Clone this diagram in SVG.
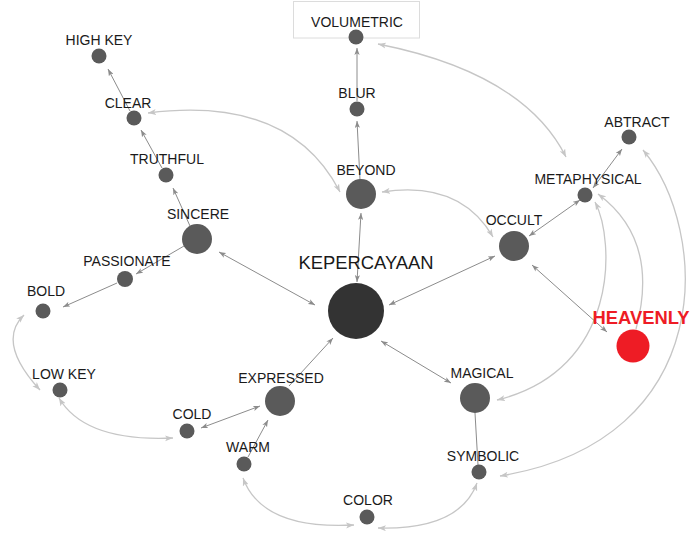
<svg xmlns="http://www.w3.org/2000/svg" width="692" height="534" viewBox="0 0 692 534">
<style>
.n{fill:#5a5a5a}
.t{font-family:"Liberation Sans",Arial,sans-serif;font-size:14px;fill:#1a1a1a;text-anchor:middle}
.d{fill:none;stroke:#8c8c8c;stroke-width:1}
.l{fill:none;stroke:#c6c6c6;stroke-width:1.3}
.d.a{marker-end:url(#ad)}
.d.b{marker-start:url(#ad);marker-end:url(#ad)}
.l.a{marker-end:url(#al)}
.l.b{marker-start:url(#al);marker-end:url(#al)}
</style>
<defs>
<marker id="ad" viewBox="0 0 8 6" refX="8" refY="3" markerWidth="7" markerHeight="5.5" markerUnits="userSpaceOnUse" orient="auto-start-reverse"><path d="M0,0 L8,3 L0,6 L2,3 z" fill="#8c8c8c"/></marker>
<marker id="al" viewBox="0 0 8 6" refX="8" refY="3" markerWidth="8" markerHeight="6.5" markerUnits="userSpaceOnUse" orient="auto-start-reverse"><path d="M0,0 L8,3 L0,6 L2,3 z" fill="#c6c6c6"/></marker>
</defs>
<rect width="692" height="534" fill="#fff"/>
<rect x="293.5" y="1.5" width="126" height="36.5" fill="none" stroke="#dcdcdc" stroke-width="1"/>
<g id="connectors">
<line class="d b" x1="219" y1="252" x2="315" y2="305"/>
<line class="d b" x1="361" y1="213" x2="357" y2="282"/>
<line class="d a" x1="360" y1="180" x2="357" y2="121"/>
<line class="d a" x1="357" y1="101" x2="357" y2="48"/>
<line class="d b" x1="495" y1="256" x2="389" y2="305"/>
<line class="d a" x1="289" y1="386" x2="333" y2="338"/>
<line class="d b" x1="451" y1="383" x2="381" y2="341"/>
<line class="d" x1="475" y1="413" x2="478" y2="465"/>
<line class="d a" x1="190" y1="226" x2="173" y2="188"/>
<line class="d a" x1="162" y1="168" x2="141" y2="130"/>
<line class="d a" x1="130" y1="111" x2="108" y2="69"/>
<line class="d a" x1="184" y1="246" x2="136" y2="274"/>
<line class="d a" x1="117" y1="283" x2="63" y2="307"/>
<line class="d b" x1="201" y1="428" x2="260" y2="406"/>
<line class="d a" x1="248" y1="457" x2="268" y2="420"/>
<line class="d b" x1="529" y1="236" x2="580" y2="200"/>
<line class="d b" x1="593" y1="188" x2="622" y2="149"/>
<line class="d b" x1="532" y1="265" x2="607" y2="332"/>
<path class="l b" d="M148,113 Q290,95 340,192"/>
<path class="l b" d="M382,192 Q460,180 493,237"/>
<path class="l b" d="M378,44 Q524,73 566,157"/>
<path class="l a" d="M636,329 Q660,240 598,194"/>
<path class="l b" d="M595,202 C615,240 620,370 497,400"/>
<path class="l b" d="M643,150 C710,230 720,440 500,476"/>
<path class="l b" d="M24,315 Q-4,342 40,390"/>
<path class="l b" d="M59,398 Q85,442 173,438"/>
<path class="l b" d="M243,478 Q262,530 354,525"/>
<path class="l b" d="M378,528 Q460,530 477,483"/>
</g>
<g id="kepercayaan"><circle cx="356" cy="311" r="28" fill="#333"/><text class="t" x="366" y="269" style="font-size:18.4px">KEPERCAYAAN</text></g>
<g id="volumetric"><circle class="n" cx="356" cy="37" r="7.5"/><text class="t" x="357" y="27">VOLUMETRIC</text></g>
<g id="blur"><circle class="n" cx="357" cy="109" r="7.5"/><text class="t" x="357" y="98">BLUR</text></g>
<g id="beyond"><circle class="n" cx="361" cy="194" r="15"/><text class="t" x="366" y="175">BEYOND</text></g>
<g id="highkey"><circle class="n" cx="99" cy="56" r="7.5"/><text class="t" x="99" y="45">HIGH KEY</text></g>
<g id="clear"><circle class="n" cx="134" cy="118" r="7.5"/><text class="t" x="128" y="108">CLEAR</text></g>
<g id="truthful"><circle class="n" cx="166" cy="175" r="7.5"/><text class="t" x="167" y="164">TRUTHFUL</text></g>
<g id="sincere"><circle class="n" cx="197" cy="239" r="15"/><text class="t" x="198" y="219">SINCERE</text></g>
<g id="passionate"><circle class="n" cx="125" cy="279" r="8"/><text class="t" x="127" y="266">PASSIONATE</text></g>
<g id="bold"><circle class="n" cx="43" cy="311" r="7.5"/><text class="t" x="46" y="296">BOLD</text></g>
<g id="lowkey"><circle class="n" cx="60" cy="390" r="7.5"/><text class="t" x="64" y="379">LOW KEY</text></g>
<g id="cold"><circle class="n" cx="187" cy="431" r="7.5"/><text class="t" x="192" y="419">COLD</text></g>
<g id="expressed"><circle class="n" cx="280" cy="401" r="15"/><text class="t" x="281" y="383">EXPRESSED</text></g>
<g id="warm"><circle class="n" cx="244" cy="464" r="7.5"/><text class="t" x="248" y="452">WARM</text></g>
<g id="color"><circle class="n" cx="367" cy="517" r="7.5"/><text class="t" x="368" y="505">COLOR</text></g>
<g id="symbolic"><circle class="n" cx="479" cy="472" r="7.5"/><text class="t" x="483" y="461">SYMBOLIC</text></g>
<g id="magical"><circle class="n" cx="475" cy="398" r="15"/><text class="t" x="482" y="378">MAGICAL</text></g>
<g id="occult"><circle class="n" cx="514" cy="246" r="15"/><text class="t" x="514" y="225">OCCULT</text></g>
<g id="metaphysical"><circle class="n" cx="585" cy="195" r="7.5"/><text class="t" x="588" y="184">METAPHYSICAL</text></g>
<g id="abtract"><circle class="n" cx="629" cy="137" r="7.5"/><text class="t" x="637" y="127">ABTRACT</text></g>
<g id="heavenly"><circle cx="633" cy="346" r="16.5" fill="#ee1c25"/><text class="t" x="641" y="324" style="font-size:18.4px;font-weight:bold;fill:#ee1c25">HEAVENLY</text></g>
</svg>
